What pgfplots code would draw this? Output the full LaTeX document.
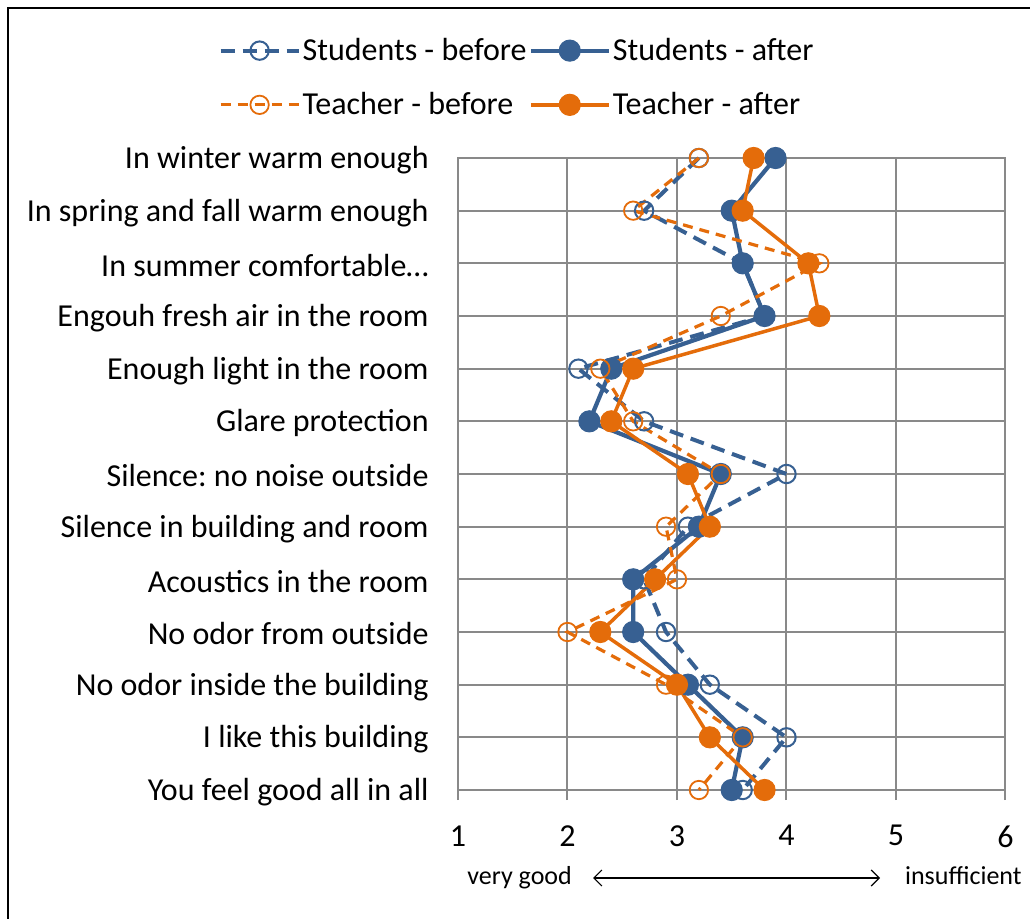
\documentclass[border=0pt]{standalone}
\usepackage{pgfplots}
\pgfplotsset{compat=1.18}
\usepackage{pgfplotstable}
\usetikzlibrary{arrows.meta}
\usepackage{fontspec}
\setmainfont{Carlito}
\frenchspacing
\definecolor{sblue}{RGB}{55,96,146}
\definecolor{torange}{RGB}{228,108,10}
\definecolor{gridgray}{RGB}{137,137,137}

% row: 0 = top (winter) ... 12 = bottom
\pgfplotstableread{
row sb  sa  tb  ta
0   3.2 3.9 3.2 3.7
1   2.7 3.5 2.6 3.6
2   3.6 3.6 4.3 4.2
3   3.8 3.8 3.4 4.3
4   2.1 2.4 2.3 2.6
5   2.7 2.2 2.6 2.4
6   4.0 3.4 3.4 3.1
7   3.1 3.2 2.9 3.3
8   2.7 2.6 3.0 2.8
9   2.9 2.6 2.0 2.3
10  3.3 3.1 2.9 3.0
11  4.0 3.6 3.6 3.3
12  3.6 3.5 3.2 3.8
}\ratings

\begin{document}
\begin{tikzpicture}
\useasboundingbox (0,0) rectangle (515pt,-459.5pt);
\draw[line width=1pt] (4pt,-470pt) -- (4pt,-4pt) -- (530pt,-4pt);
\begin{axis}[
  at={(229pt,-395pt)}, anchor=south west,
  scale only axis, width=273.75pt, height=316pt,
  xmin=1, xmax=6, ymin=0, ymax=12, y dir=reverse,
  xtick={1,2,3,4,5,6},
  ytick={0,...,12},
  yticklabels={In winter warm enough, In spring and fall warm enough,
    In summer comfortable…, Engouh fresh air in the room,
    Enough light in the room, Glare protection, Silence: no noise outside,
    Silence in building and room, Acoustics in the room,
    No odor from outside, No odor inside the building,
    I like this building, You feel good all in all},
  grid=major,
  major grid style={gridgray, line width=1pt},
  axis line style={gridgray, line width=1pt},
  tick align=outside, major tick length=5pt,
  xtick pos=bottom,
  xtick style={gridgray, line width=1pt},
  ytick style={draw=none},
  tick label style={font=\fontsize{16}{19}\selectfont, inner sep=0pt},
  /pgf/number format/assume math mode=true,
  yticklabel style={anchor=east, xshift=-9.5pt, yshift=-1pt},
  xticklabel style={anchor=north, yshift=-12.5pt},
  clip=false,
  legend columns=2,
  legend style={draw=none, fill=none, at={(axis description cs:0.1078,1.127)},
    anchor=center, font=\fontsize{16}{19}\selectfont,
    row sep=12.5pt, inner sep=0pt,
    nodes={inner sep=1pt}},
  legend cell align=left,
  legend image code/.code={
    \draw[mark repeat=2, mark phase=2, #1] plot coordinates {(0pt,0pt) (19.5pt,0pt) (39pt,0pt)};},
]
\addplot[sblue, line width=2pt, dash pattern=on 7pt off 4pt,
  mark=o, mark size=4.6pt, mark options={solid, line width=1pt}]
  table[x=sb, y=row] {\ratings};
\addlegendentry{Students - before}
\addplot[sblue, line width=2.1pt, mark=*, mark size=5.3pt,
  mark options={solid, line width=0.5pt}]
  table[x=sa, y=row] {\ratings};
\addlegendentry{Students - after}
\addplot[torange, line width=1.6pt, dash pattern=on 5pt off 3.5pt,
  mark=o, mark size=4.6pt, mark options={solid, line width=0.9pt}]
  table[x=tb, y=row] {\ratings};
\addlegendentry{Teacher - before}
\addplot[torange, line width=1.75pt, mark=*, mark size=5.3pt,
  mark options={solid, line width=0.5pt}]
  table[x=ta, y=row] {\ratings};
\addlegendentry{Teacher - after}
\end{axis}
\begin{scope}[x=0.5pt, y=-0.5pt]
  \node[anchor=base west, inner sep=0pt, font=\fontsize{13}{15}\selectfont] at (467,885) {very good};
  \draw[{Straight Barb[length=4pt,width=8pt]}-{Straight Barb[length=4pt,width=8pt]}, line width=0.6pt] (593,878) -- (880,878);
  \node[anchor=base east, inner sep=0pt, font=\fontsize{13}{15}\selectfont] at (1022,885) {insufficient};
\end{scope}
\end{tikzpicture}
\end{document}
